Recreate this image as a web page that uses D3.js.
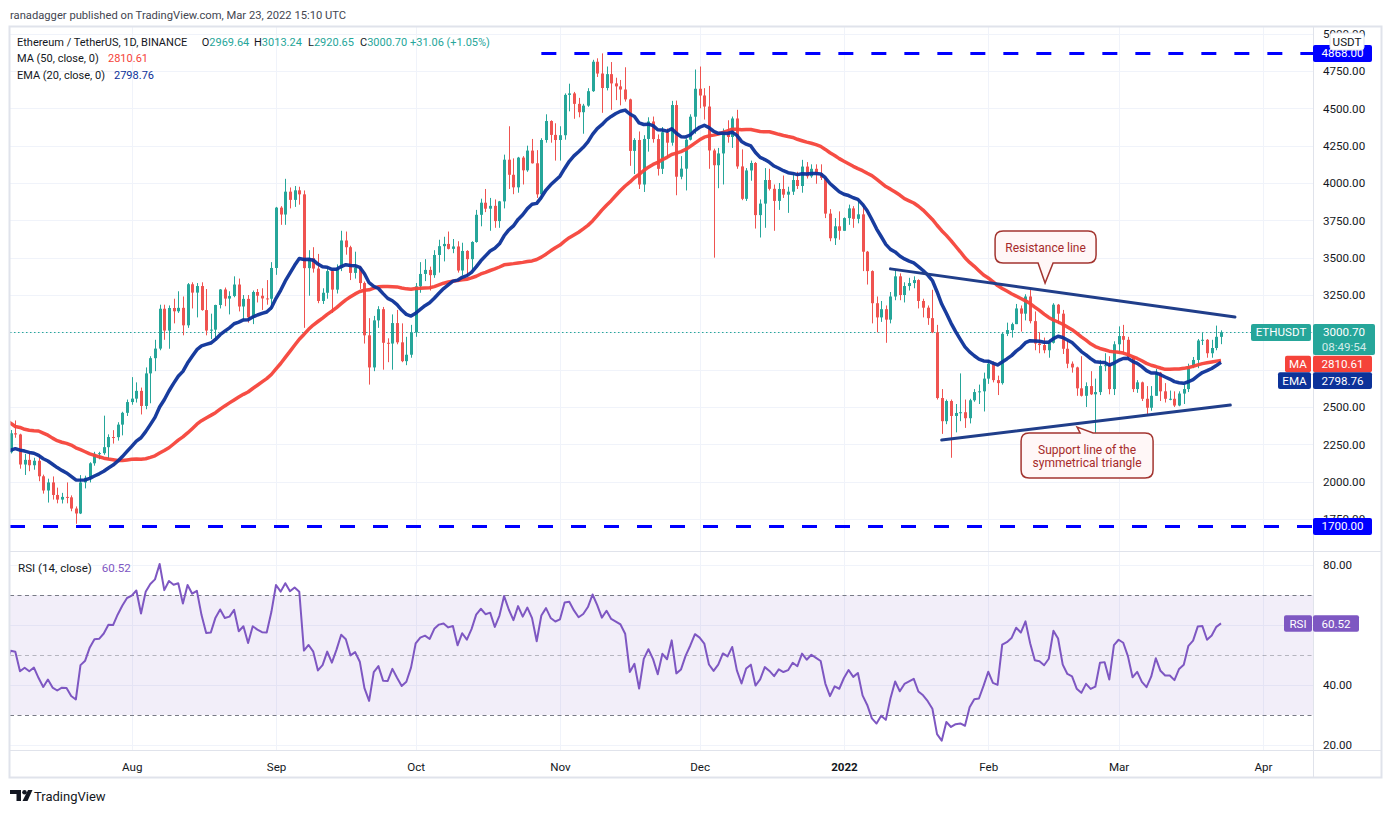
<!DOCTYPE html>
<html>
<head>
<meta charset="utf-8">
<script src="https://cdn.jsdelivr.net/npm/d3@7"></script>
<style>
html, body { margin: 0; padding: 0; background: #fff; }
svg { display: block; font-family: Roboto, "Noto Sans", sans-serif; }
</style>
</head>
<body>
<svg id="chart" width="1391" height="813"></svg>
<script>
// ---- data (ETH/USDT daily) ----
// closes before the first visible candle, 2021-05-10 .. 2021-07-05 (used only by the MA/EMA/RSI studies)
const warmupCloses = [
  3950,4170,3740,3720,4080,3640,3575,3276,3373,2443,2777,2430,2296,2109,2643,2706,2888,2736,2420,2278,2386,2707,
  2634,2707,2855,2689,2630,2715,2590,2517,2610,2472,2354,2373,2508,2573,2548,2365,2374,2225,2166,2245,1888,1875,1970,1990,1832,1817,1973,2085,2160,2274,
  2113,2150,2226,2322,2197
];

// visible candles, 2021-07-06 .. 2022-03-23
const opens = [
  2197,2324,2316,2115,2146,2110,2140,2036,1941,1995,1911,1880,1898,1895,1820,1787,1995,2026,2123,2187,2191,2231,2299,2298,2382,2461,
  2533,2556,2608,2507,2725,2827,2891,3158,3012,3163,3141,3164,3047,3322,3266,3310,3149,3012,3018,3183,3287,3226,3243,3320,3173,3224,3100,3270,3245,3227,3225,
  3431,3835,3789,3942,3887,3951,3924,3430,3497,3427,3210,3265,3410,3286,3430,3615,3570,3398,3434,3330,2980,2765,3080,3155,2930,2925,3062,2933,2807,2850,
  3000,3308,3391,3418,3383,3518,3577,3592,3559,3575,3414,3545,3490,3605,3787,3868,3828,3847,3745,3877,4156,4055,3971,4170,4085,4217,4132,3924,4288,4415,4322,
  4288,4320,4590,4600,4530,4474,4518,4615,4812,4733,4636,4729,4667,4647,4626,4560,4215,4288,3990,4295,4412,4294,4095,4340,4270,4522,4042,4096,4290,4444,
  4631,4586,4512,4218,4119,4198,4347,4308,4432,4111,3894,4084,4134,3785,3862,4020,3961,3880,3960,3922,3942,4020,3980,4110,4045,4095,4065,4035,3795,3630,3710,
  3680,3765,3830,3760,3790,3540,3410,3195,3100,3155,3085,3240,3375,3250,3310,3330,3350,3210,3165,3095,3000,2560,2405,2540,2440,2460,2465,2425,2545,2600,2605,
  2690,2790,2680,2660,2990,3015,3055,3160,3125,3240,3075,2925,2915,2880,2930,3185,3125,2890,2790,2765,2625,2575,2640,2585,2600,2775,2780,2620,
  2920,2975,2950,2835,2620,2665,2555,2495,2575,2730,2605,2555,2555,2510,2590,2620,2770,2815,2945,2950,2860,2895,2969.64
];
const highs = [
  2346,2410,2321,2186,2190,2160,2183,2047,2020,2035,1960,1925,1995,1908,1834,2044,2040,2130,2200,2200,2442,2317,2345,2398,2468,2550,
  2700,2665,2630,2765,2840,2950,3185,3185,3180,3225,3275,3240,3330,3335,3330,3335,3290,3125,3185,3290,3300,3275,3375,3360,3250,3250,3280,3290,3295,3350,3470,
  3840,3845,4028,3970,3980,3975,3950,3550,3570,3525,3295,3440,3420,3455,3680,3675,3580,3540,3445,3340,3095,3110,3175,3170,2960,3120,3150,3060,2970,3050,
  3330,3470,3490,3440,3550,3620,3640,3675,3625,3610,3600,3550,3610,3820,3895,3960,3900,3890,3880,4190,4380,4165,4175,4180,4250,4295,4220,4300,4460,4420,4400,
  4380,4600,4665,4610,4570,4530,4635,4825,4835,4868,4780,4810,4705,4690,4775,4565,4300,4345,4320,4440,4445,4325,4375,4365,4550,4552,4180,4300,4460,4760,
  4780,4635,4650,4230,4235,4365,4420,4445,4490,4225,4100,4150,4140,3890,4100,4095,3990,4000,4050,3975,4055,4075,4155,4140,4125,4125,4125,4035,3825,3765,3810,
  3770,3855,3845,3880,3850,3545,3415,3240,3210,3180,3270,3415,3395,3335,3365,3375,3355,3225,3180,3285,3050,2620,2550,2550,2520,2725,2550,2555,2620,2650,2730,
  2815,2805,2710,3000,3065,3065,3190,3180,3255,3285,3140,3000,2965,2950,3195,3190,3150,2945,2805,2770,2840,2665,2740,2690,2815,2860,2840,2940,
  3040,3050,2970,2840,2680,2670,2640,2640,2755,2735,2660,2610,2605,2605,2650,2790,2835,2955,3000,2955,2950,3045,3013.24
];
const lows = [
  2189,2294,2087,2045,2070,2080,2003,1920,1860,1880,1855,1854,1855,1802,1718,1783,1955,1995,2107,2150,2180,2150,2255,2275,2310,2440,
  2515,2530,2450,2485,2525,2740,2880,2950,2890,3060,3130,2980,3030,3160,3100,3145,2980,2955,2945,3160,3175,3120,3235,3140,3085,3065,3055,3200,3150,3185,3150,
  3385,3720,3720,3830,3840,3855,3030,3245,3400,3195,3190,3225,3130,3260,3410,3520,3350,3360,3290,2925,2650,2740,3030,2750,2800,2750,2920,2800,2780,2830,
  2970,3265,3343,3280,3365,3400,3475,3555,3530,3400,3380,3380,3415,3600,3710,3805,3680,3700,3700,3830,3960,3925,3935,3990,4075,4130,3900,3890,4270,4270,4150,
  4150,4290,4480,4430,4440,4330,4510,4610,4710,4470,4620,4490,4555,4520,4545,4115,4060,3960,3940,4210,4270,4050,4060,4170,4250,3918,4025,3950,4285,4330,
  4500,4425,4095,3500,3965,3990,4270,4235,4095,3885,3880,4015,3695,3635,3700,3950,3680,3820,3900,3800,3920,3960,3935,4030,4035,3995,4020,3765,3610,3585,3620,
  3680,3720,3700,3730,3410,3320,3060,3000,3070,2930,3060,3215,3215,3200,3280,3295,3160,3100,3050,2995,2550,2320,2385,2160,2330,2405,2360,2390,2535,2520,2470,
  2655,2665,2580,2650,2975,2965,3055,3005,3080,3060,2880,2860,2860,2830,2925,3055,2855,2760,2730,2575,2570,2500,2580,2300,2580,2740,2585,2580,
  2860,2865,2815,2600,2595,2540,2445,2475,2575,2540,2530,2545,2500,2505,2520,2600,2760,2760,2915,2830,2830,2880,2920.65
];
const closes = [
  2324,2316,2115,2146,2110,2140,2036,1941,1995,1911,1880,1898,1895,1820,1787,1995,2026,2123,2187,2191,2231,2299,2298,2382,2461,2533,
  2556,2608,2507,2725,2827,2891,3158,3012,3163,3141,3164,3047,3322,3266,3310,3149,3012,3018,3183,3287,3226,3243,3320,3173,3224,3100,3270,3245,3227,3225,3431,
  3835,3789,3942,3887,3951,3924,3430,3497,3427,3210,3265,3410,3286,3430,3615,3570,3398,3434,3330,2980,2765,3080,3155,2930,2925,3062,2933,2807,2850,3000,
  3308,3391,3418,3383,3518,3577,3592,3559,3575,3414,3545,3490,3605,3787,3868,3828,3847,3745,3877,4156,4055,3971,4170,4085,4217,4132,3924,4288,4415,4322,4288,
  4320,4590,4600,4530,4474,4518,4615,4812,4733,4636,4729,4667,4647,4626,4560,4215,4288,3990,4295,4412,4294,4095,4340,4270,4522,4042,4096,4290,4444,4631,
  4586,4512,4218,4119,4198,4347,4308,4432,4111,3894,4084,4134,3785,3862,4020,3961,3880,3960,3922,3942,4020,3980,4110,4045,4095,4065,4035,3795,3630,3710,3680,
  3765,3830,3760,3790,3540,3410,3195,3100,3155,3085,3240,3375,3250,3310,3330,3350,3210,3165,3095,3000,2560,2405,2540,2440,2460,2465,2425,2545,2600,2605,2690,
  2790,2680,2660,2990,3015,3055,3160,3125,3240,3075,2925,2915,2880,2930,3185,3125,2890,2790,2765,2625,2575,2640,2585,2600,2775,2780,2620,2920,
  2975,2950,2835,2620,2665,2555,2495,2575,2730,2605,2555,2555,2510,2590,2620,2770,2815,2945,2950,2860,2895,2970,3000.70
];

const priceTicks = [1750,2000,2250,2500,2750,3000,3250,3500,3750,4000,4250,4500,4750,5000];
const rsiTicks = [20,40,60,80];
const monthTicks = ["2021-08-01","2021-09-01","2021-10-01","2021-11-01","2021-12-01","2022-01-01","2022-02-01","2022-03-01","2022-04-01"];
const monthLabels = ["Aug","Sep","Oct","Nov","Dec","2022","Feb","Mar","Apr"];
// tick labels hidden behind the value tags on the right
const hiddenPriceLabels = [2750];
const hiddenRsiLabels = [60];

// horizontal levels drawn as dashed lines
const levelPrices = [4868, 1700];
const levelStarts = ["2021-10-28", "2021-07-01"];
// trend lines [date, price]
const resistanceLine = [["2022-01-11", 3425], ["2022-03-26", 3102]];
const supportLine = [["2022-01-22", 2279], ["2022-03-25", 2513]];
// callouts: pointer tip [date, price]
const callouts = [
  { tip: ["2022-02-13T05:00", 3330], lines: ["Resistance line"] },
  { tip: ["2022-02-20T02:00", 2366], lines: ["Support line of the", "symmetrical triangle"] }
];

const legend = { o: "2969.64", h: "3013.24", l: "2920.65", c: "3000.70", chg: "+31.06 (+1.05%)", ma: "2810.61", ema: "2798.76", rsi: "60.52", timer: "08:49:54" };

// ---- layout ----
const W = 1391, H = 813;
const left = 10, axisX = 1313, frameR = 1381;
const priceTop = 27, priceBottom = 551, rsiTop = 552, rsiBottom = 750, frameBottom = 777;

const UP = "#26a69a", DOWN = "#ef5350", MA_C = "#f5433a", EMA_C = "#0c3299", TREND_C = "#203e8a";
const LEVEL_C = "#0000ff", RSI_C = "#7e57c2", GRID = "#f0f3fa", BORDER = "#e0e3eb", TXT = "#131722";
const SMALL = 11;

const parse = d3.utcParse("%Y-%m-%d");
const parseT = s => s.length > 10 ? d3.utcParse("%Y-%m-%dT%H:%M")(s) : parse(s);

const dates = d3.utcDay.range(parse("2021-07-06"), parse("2022-03-24"));
const warmupDates = d3.utcDay.range(parse("2021-05-10"), parse("2021-07-06"));
const candles = dates.map((d, i) => ({ date: d, o: opens[i], h: highs[i], l: lows[i], c: closes[i] }));

const x = d3.scaleUtc().domain([parse("2021-08-01"), parse("2022-04-01")]).range([131.7, 1262.9]);
const y = d3.scaleLinear().domain([2500, 4000]).range([407, 183]);
const yr = d3.scaleLinear().domain([20, 80]).range([745, 565]);

// ---- studies from closes ----
const allDates = warmupDates.concat(dates);
const allCloses = warmupCloses.concat(closes);
function sma(v, n) { return v.map((_, i) => i < n - 1 ? null : d3.mean(v.slice(i - n + 1, i + 1))); }
function ema(v, n) {
  const a = 2 / (n + 1); let e = null;
  return v.map((c, i) => {
    if (i < n - 1) return null;
    e = (i === n - 1) ? d3.mean(v.slice(0, n)) : a * c + (1 - a) * e;
    return e;
  });
}
function rsi(v, n) {
  let up = 0, dn = 0; const out = [null];
  for (let i = 1; i < v.length; i++) {
    const ch = v[i] - v[i - 1], u = Math.max(ch, 0), d = Math.max(-ch, 0);
    if (i <= n) { up += u / n; dn += d / n; out.push(i === n ? 100 - 100 / (1 + up / dn) : null); }
    else { up = (up * (n - 1) + u) / n; dn = (dn * (n - 1) + d) / n; out.push(dn === 0 ? 100 : 100 - 100 / (1 + up / dn)); }
  }
  return out;
}
const maVals = sma(allCloses, 50), emaVals = ema(allCloses, 20), rsiVals = rsi(allCloses, 14);

// ---- drawing ----
const svg = d3.select("#chart");
svg.append("rect").attr("width", W).attr("height", H).attr("fill", "#fff");
const defs = svg.append("defs");
defs.append("clipPath").attr("id", "clipPrice").append("rect")
  .attr("x", left).attr("y", priceTop).attr("width", axisX - left).attr("height", priceBottom - priceTop);
defs.append("clipPath").attr("id", "clipRsi").append("rect")
  .attr("x", left).attr("y", rsiTop).attr("width", axisX - left).attr("height", rsiBottom - rsiTop);

// header
svg.append("text").attr("x", 10).attr("y", 19).attr("font-size", 11.2).attr("fill", "#434651")
  .text("ranadagger published on TradingView.com, Mar 23, 2022 15:10 UTC");

// grid
const grid = svg.append("g");
grid.selectAll("line.h").data(priceTicks).join("line")
  .attr("x1", left).attr("x2", axisX).attr("y1", d => Math.round(y(d)) + 0.5).attr("y2", d => Math.round(y(d)) + 0.5)
  .attr("stroke", GRID);
grid.selectAll("line.r").data(rsiTicks).join("line")
  .attr("x1", left).attr("x2", axisX).attr("y1", d => Math.round(yr(d)) + 0.5).attr("y2", d => Math.round(yr(d)) + 0.5)
  .attr("stroke", GRID);
grid.selectAll("line.v").data(monthTicks).join("line")
  .attr("x1", d => Math.round(x(parse(d))) + 0.5).attr("x2", d => Math.round(x(parse(d))) + 0.5)
  .attr("y1", priceTop).attr("y2", rsiBottom).attr("stroke", GRID);

// legend
const lg = svg.append("g").attr("font-size", SMALL).attr("fill", TXT);
lg.append("text").attr("x", 17).attr("y", 46).text("Ethereum / TetherUS, 1D, BINANCE");
[["O", legend.o, 201.7], ["H", legend.h, 254], ["L", legend.l, 308], ["C", legend.c, 360]].forEach(p => {
  const t = lg.append("text").attr("x", p[2]).attr("y", 46);
  t.append("tspan").text(p[0]);
  t.append("tspan").attr("fill", UP).text(p[1]);
});
lg.append("text").attr("x", 410).attr("y", 46).attr("fill", UP).text(legend.chg);
lg.append("text").attr("x", 17).attr("y", 62).text("MA (50, close, 0)");
lg.append("text").attr("x", 108).attr("y", 62).attr("fill", MA_C).text(legend.ma);
lg.append("text").attr("x", 17).attr("y", 79).text("EMA (20, close, 0)");
lg.append("text").attr("x", 114).attr("y", 79).attr("fill", EMA_C).text(legend.ema);

// price pane content
const pp = svg.append("g").attr("clip-path", "url(#clipPrice)");

// dotted last-price line
pp.append("line").attr("x1", left).attr("x2", axisX)
  .attr("y1", Math.round(y(+legend.c)) + 0.5).attr("y2", Math.round(y(+legend.c)) + 0.5)
  .attr("stroke", UP).attr("stroke-dasharray", "1.5,2.5");

// dashed levels
pp.selectAll("line.level").data(levelPrices).join("line")
  .attr("x1", (d, i) => Math.max(left, x(parse(levelStarts[i])))).attr("x2", axisX)
  .attr("y1", d => y(d)).attr("y2", d => y(d))
  .attr("stroke", LEVEL_C).attr("stroke-width", 3).attr("stroke-dasharray", "15,18");

// candles
const cg = pp.append("g");
const cx = d => Math.round(x(d.date));
cg.selectAll("line.wick").data(candles).join("line")
  .attr("x1", d => cx(d) + 0.5).attr("x2", d => cx(d) + 0.5)
  .attr("y1", d => y(d.h)).attr("y2", d => y(d.l))
  .attr("stroke", d => d.c >= d.o ? UP : DOWN).attr("stroke-width", 1);
cg.selectAll("rect.body").data(candles).join("rect")
  .attr("x", d => cx(d) - 1).attr("width", 3)
  .attr("y", d => y(Math.max(d.o, d.c)))
  .attr("height", d => Math.max(1, Math.abs(y(d.o) - y(d.c))))
  .attr("fill", d => d.c >= d.o ? UP : DOWN);

// MA / EMA
const studyLine = (vals, scale) => d3.line()
  .defined((d, i) => vals[i] != null)
  .x(d => x(d)).y((d, i) => scale(vals[i]));
pp.append("path").attr("d", studyLine(maVals, y)(allDates))
  .attr("fill", "none").attr("stroke", MA_C).attr("stroke-width", 3.5).attr("stroke-linejoin", "round").attr("stroke-opacity", 0.95);
pp.append("path").attr("d", studyLine(emaVals, y)(allDates))
  .attr("fill", "none").attr("stroke", EMA_C).attr("stroke-width", 3.5).attr("stroke-linejoin", "round").attr("stroke-opacity", 0.95);

// trend lines
[resistanceLine, supportLine].forEach(tl => {
  pp.append("line")
    .attr("x1", x(parse(tl[0][0]))).attr("y1", y(tl[0][1]))
    .attr("x2", x(parse(tl[1][0]))).attr("y2", y(tl[1][1]))
    .attr("stroke", TREND_C).attr("stroke-width", 3).attr("stroke-linecap", "round");
});

// callouts
const CALL_STROKE = "#a33530", CALL_FILL = "#fff7f7", CALL_TXT = "#a52a2a";
callouts.forEach((c, k) => {
  const tx = x(parseT(c.tip[0])), ty = y(c.tip[1]);
  let bx, by, bw, bh, path;
  const r = 8;
  if (k === 0) {
    bw = 101; bh = 32; bx = tx - 50; by = ty - 52;
    const b = by + bh, p1 = tx - 7, p2 = tx + 8;
    path = `M${bx + r},${by} H${bx + bw - r} Q${bx + bw},${by} ${bx + bw},${by + r} V${b - r} Q${bx + bw},${b} ${bx + bw - r},${b}
      H${p2} L${tx},${ty} L${p1},${b} H${bx + r} Q${bx},${b} ${bx},${b - r} V${by + r} Q${bx},${by} ${bx + r},${by} Z`;
  } else {
    bw = 132; bh = 45; bx = tx - 56; by = ty + 6;
    const b = by + bh, p1 = tx + 3, p2 = tx + 16;
    path = `M${bx + r},${by} H${p1} L${tx},${ty} L${p2},${by} H${bx + bw - r} Q${bx + bw},${by} ${bx + bw},${by + r} V${b - r}
      Q${bx + bw},${b} ${bx + bw - r},${b} H${bx + r} Q${bx},${b} ${bx},${b - r} V${by + r} Q${bx},${by} ${bx + r},${by} Z`;
  }
  const g = svg.append("g");
  g.append("path").attr("d", path).attr("fill", CALL_FILL).attr("stroke", CALL_STROKE).attr("stroke-width", 1.5);
  const t = g.append("text").attr("font-size", 12).attr("fill", CALL_TXT).attr("text-anchor", "middle");
  const n = c.lines.length;
  c.lines.forEach((s, i) => {
    t.append("tspan").attr("x", bx + bw / 2).attr("y", by + bh / 2 + 4.5 + (i - (n - 1) / 2) * 13).text(s);
  });
});

// RSI pane
const rp = svg.append("g").attr("clip-path", "url(#clipRsi)");
rp.append("rect").attr("x", left).attr("width", axisX - left)
  .attr("y", yr(70)).attr("height", yr(30) - yr(70)).attr("fill", RSI_C).attr("fill-opacity", 0.1);
[70, 30].forEach(v => rp.append("line").attr("x1", left).attr("x2", axisX)
  .attr("y1", Math.round(yr(v)) + 0.5).attr("y2", Math.round(yr(v)) + 0.5)
  .attr("stroke", "#787b86").attr("stroke-dasharray", "4,3.5"));
rp.append("line").attr("x1", left).attr("x2", axisX)
  .attr("y1", Math.round(yr(50)) + 0.5).attr("y2", Math.round(yr(50)) + 0.5)
  .attr("stroke", "#787b86").attr("stroke-opacity", 0.5).attr("stroke-dasharray", "4,3.5");
rp.append("path").attr("d", studyLine(rsiVals, yr)(allDates))
  .attr("fill", "none").attr("stroke", RSI_C).attr("stroke-width", 2).attr("stroke-linejoin", "round");
svg.append("text").attr("x", 18).attr("y", 572).attr("font-size", 11.6).attr("fill", TXT).text("RSI (14, close)");
svg.append("text").attr("x", 101.7).attr("y", 572).attr("font-size", 11.6).attr("fill", RSI_C).text(legend.rsi);

// frame and separators
svg.append("rect").attr("x", 9.5).attr("y", 26.5).attr("width", frameR - 9).attr("height", frameBottom - 26)
  .attr("fill", "none").attr("stroke", BORDER).attr("stroke-width", 2);
svg.append("line").attr("x1", left).attr("x2", frameR).attr("y1", priceBottom + 0.5).attr("y2", priceBottom + 0.5).attr("stroke", BORDER);
svg.append("line").attr("x1", left).attr("x2", frameR).attr("y1", rsiBottom + 0.5).attr("y2", rsiBottom + 0.5).attr("stroke", BORDER);
svg.append("line").attr("x1", axisX + 0.5).attr("x2", axisX + 0.5).attr("y1", priceTop).attr("y2", frameBottom).attr("stroke", BORDER);

// axes
const pAxis = svg.append("g").attr("transform", `translate(${axisX},0)`)
  .call(d3.axisRight(y).tickValues(priceTicks).tickFormat(d3.format(".2f")).tickSize(0).tickPadding(10));
const rAxis = svg.append("g").attr("transform", `translate(${axisX},0)`)
  .call(d3.axisRight(yr).tickValues(rsiTicks).tickFormat(d3.format(".2f")).tickSize(0).tickPadding(10));
const tAxis = svg.append("g").attr("transform", `translate(0,${rsiBottom})`)
  .call(d3.axisBottom(x).tickValues(monthTicks.map(parse)).tickFormat((d, i) => monthLabels[i]).tickSize(0).tickPadding(13));
[pAxis, rAxis, tAxis].forEach(a => {
  a.select(".domain").remove();
  a.selectAll("text").attr("font-size", 11.6).attr("fill", TXT).attr("font-family", "Roboto, 'Noto Sans', sans-serif");
});
pAxis.selectAll(".tick").filter(d => hiddenPriceLabels.includes(d)).select("text").remove();
rAxis.selectAll(".tick").filter(d => hiddenRsiLabels.includes(d)).select("text").remove();
tAxis.selectAll("text").filter((d, i) => monthLabels[i] === "2022").attr("font-weight", "bold");

// right-side labels
function tag(x0, top, w, h, fill, lines, opts = {}) {
  const g = svg.append("g");
  g.append("rect").attr("x", x0).attr("y", top).attr("width", w).attr("height", h)
    .attr("rx", opts.rx || 2).attr("fill", fill).attr("stroke", opts.stroke || "none");
  lines.forEach((s, i) => {
    g.append("text").attr("x", x0 + w / 2).attr("y", top + 12.5 + i * 14.5).attr("text-anchor", "middle")
      .attr("font-size", 11.6).attr("fill", opts.color || "#fff").attr("fill-opacity", i > 0 ? 0.8 : 1).text(s);
  });
}
// level labels
tag(axisX, y(4868) - 8.5, 59, 17, LEVEL_C, ["4868.00"]);
tag(axisX, y(1700) - 8.5, 59, 17, LEVEL_C, ["1700.00"]);
tag(1330, 33, 34, 17, "#fff", ["USDT"], { stroke: BORDER, color: TXT, rx: 3 });

// stacked last-value labels
let stackTop = y(+legend.c) - 8.3;
tag(1251, stackTop, 60, 17, UP, ["ETHUSDT"]);
tag(axisX, stackTop, 62, 31, UP, [legend.c, legend.timer]);
stackTop += 31.7;
[["MA", legend.ma, MA_C], ["EMA", legend.ema, EMA_C]].forEach(p => {
  const top = Math.max(y(+p[1]) - 8.3, stackTop);
  const lw = p[0] === "MA" ? 26 : 33;
  tag(axisX - lw - 2, top, lw, 16.7, p[2], [p[0]]);
  tag(axisX, top, 59, 16.7, p[2], [p[1]]);
  stackTop = top + 16.7;
});
tag(1284, yr(+legend.rsi) - 8.2, 28, 16.5, RSI_C, ["RSI"]);
tag(axisX, yr(+legend.rsi) - 8.2, 46, 16.5, RSI_C, [legend.rsi]);

// footer logo + name
const logo = svg.append("g").attr("fill", TXT);
logo.append("path").attr("d", "M10,790 H21 V801 H16.5 V794 H10 Z");
logo.append("circle").attr("cx", 24.5).attr("cy", 792.3).attr("r", 2.3);
logo.append("path").attr("d", "M28,790 H32.5 L27.5,801 H22.5 Z");
svg.append("text").attr("x", 34).attr("y", 801).attr("font-size", 13).attr("fill", TXT).text("TradingView");
</script>
</body>
</html>
